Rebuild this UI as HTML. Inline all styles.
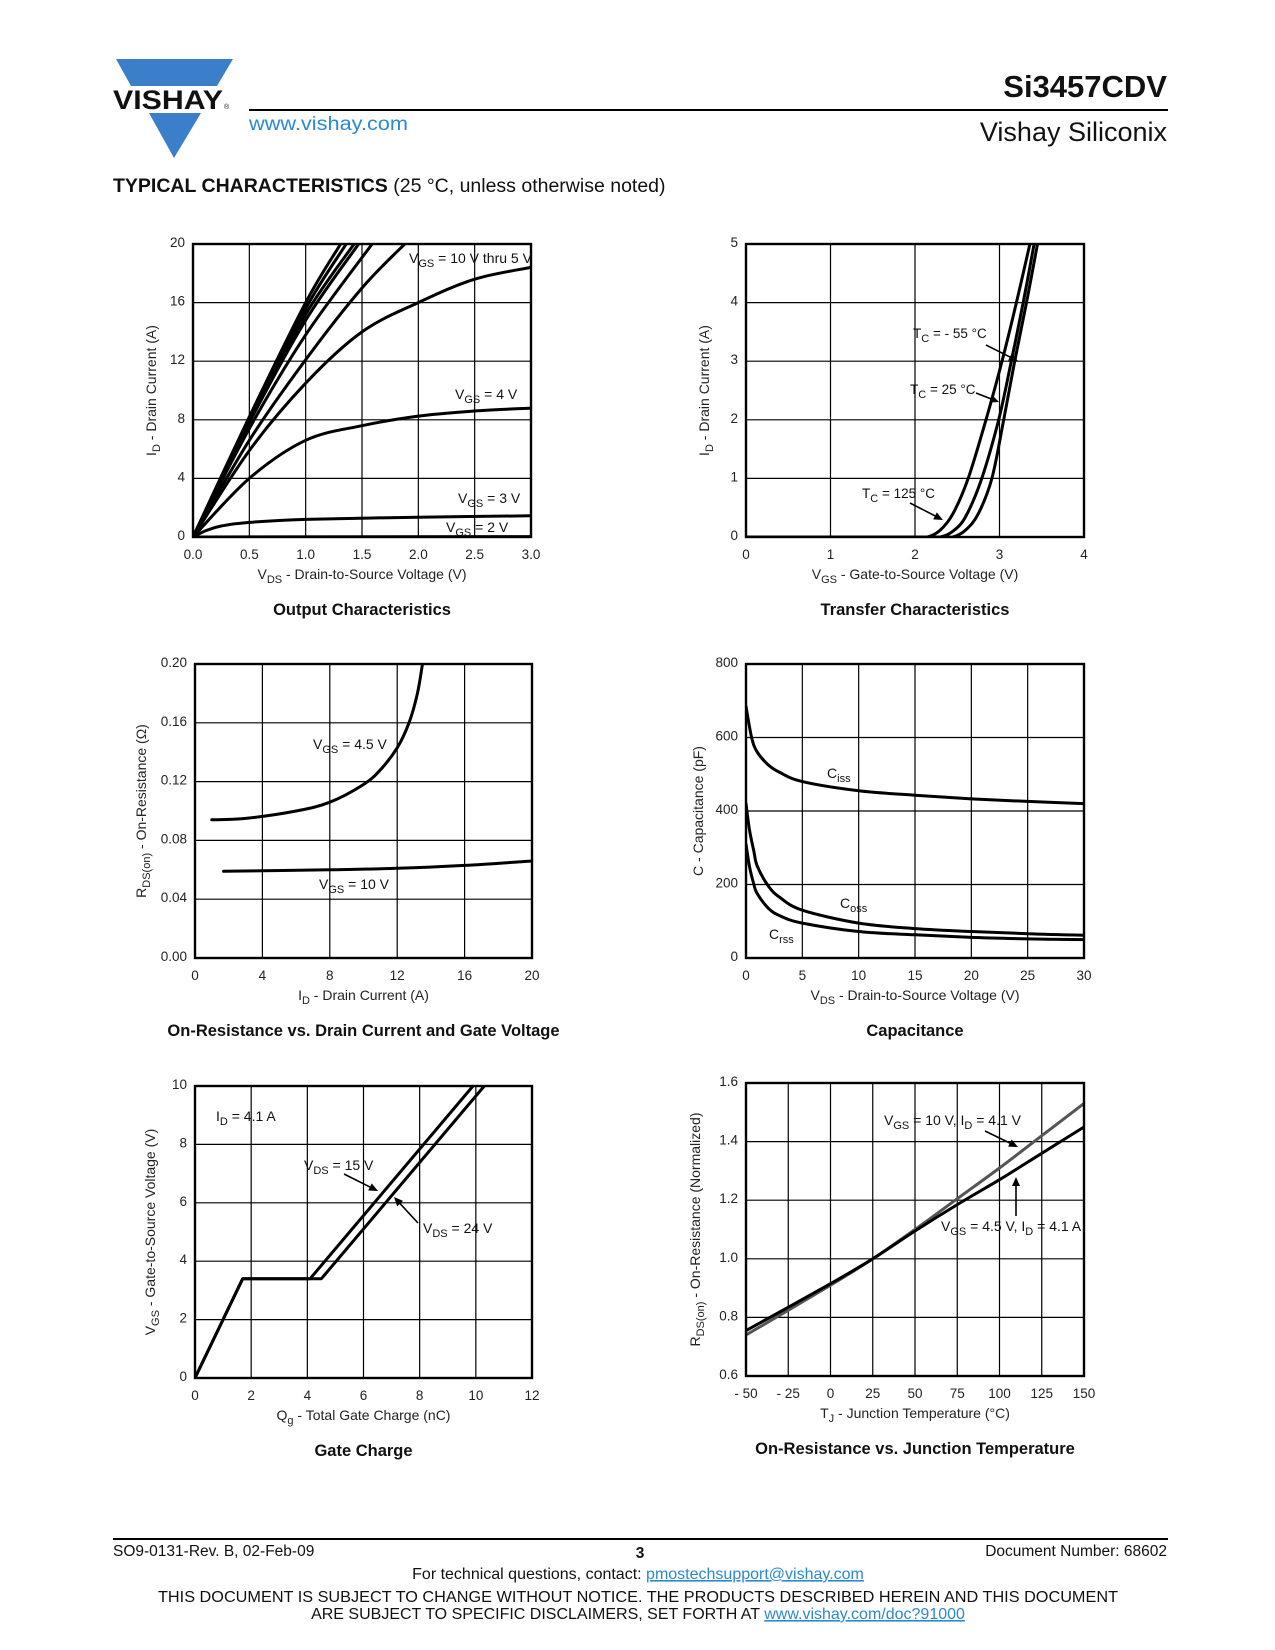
<!DOCTYPE html>
<html><head><meta charset="utf-8"><style>
body{margin:0;background:#fff;}
svg{display:block;font-family:"Liberation Sans",Arial,sans-serif;}
</style></head><body>
<svg id="page" width="1275" height="1650" viewBox="0 0 1275 1650" xmlns="http://www.w3.org/2000/svg">
<g>
<polygon points="116,59 233,59 217,86 131,86" fill="#3b7fcb"/>
<text x="113" y="109" font-size="27" font-weight="bold" textLength="110" lengthAdjust="spacingAndGlyphs" fill="#111">VISHAY</text>
<text x="224" y="109" font-size="7" fill="#111">®</text>
<polygon points="149,113 201,113 174,158" fill="#3b7fcb"/>
<line x1="249" y1="110" x2="1168" y2="110" stroke="#000" stroke-width="2"/>
<text x="249" y="130" font-size="19" fill="#2a8ad0" textLength="159" lengthAdjust="spacingAndGlyphs">www.vishay.com</text>
<text x="1167" y="97" font-size="31" font-weight="bold" text-anchor="end" fill="#111">Si3457CDV</text>
<text x="1167" y="141" font-size="27" text-anchor="end" fill="#111">Vishay Siliconix</text>
<text x="113" y="192" font-size="19.5" fill="#111"><tspan font-weight="bold">TYPICAL CHARACTERISTICS</tspan> (25 °C, unless otherwise noted)</text>
</g>
<g>
<line x1="113" y1="1539" x2="1168" y2="1539" stroke="#000" stroke-width="2"/>
<text x="113" y="1556" font-size="15.5" fill="#111">SO9-0131-Rev. B, 02-Feb-09</text>
<text x="640" y="1558" font-size="15.5" font-weight="bold" text-anchor="middle" fill="#111">3</text>
<text x="1167" y="1556" font-size="15.5" text-anchor="end" fill="#111">Document Number: 68602</text>
<text x="638" y="1579" font-size="16" text-anchor="middle" fill="#111">For technical questions, contact: <tspan fill="#2a8ad0" text-decoration="underline">pmostechsupport@vishay.com</tspan></text>
<text x="638" y="1602" font-size="16" text-anchor="middle" fill="#111" textLength="960" lengthAdjust="spacingAndGlyphs">THIS DOCUMENT IS SUBJECT TO CHANGE WITHOUT NOTICE. THE PRODUCTS DESCRIBED HEREIN AND THIS DOCUMENT</text>
<text x="638" y="1619" font-size="16" text-anchor="middle" fill="#111">ARE SUBJECT TO SPECIFIC DISCLAIMERS, SET FORTH AT <tspan fill="#2a8ad0" text-decoration="underline">www.vishay.com/doc?91000</tspan></text>
</g>
</svg>
<script>
// ---- Output characteristics data ----
const outX1=[0,0.5,1.0,1.31], outY1=[0,8.2,16,20];
const outX2=[0,0.5,1.0,1.36], outY2=[0,8.0,15.6,20];
const outX3=[0,0.5,1.0,1.43], outY3=[0,7.9,15.2,20];
const outX4=[0,0.5,1.0,1.47], outY4=[0,7.8,14.8,20];
const outX5=[0,0.5,1.0,1.59], outY5=[0,7.4,13.8,20];
const outX6=[0,0.5,1.0,1.5,1.88], outY6=[0,6.6,12.1,17.0,20];
const outX7=[0,0.5,1.0,1.5,2.0,2.5,3.0], outY7=[0,5.9,10.5,14.0,16.0,17.6,18.4];
const outX8=[0,0.5,1.0,1.5,2.0,2.5,3.0], outY8=[0,4.0,6.6,7.6,8.25,8.6,8.8];
const outX9=[0,0.12,0.25,0.5,1.0,2.0,3.0], outY9=[0,0.45,0.75,1.0,1.2,1.35,1.45];
const outX10=[0,3.0], outY10=[0,0.03];
const outXTicks=["0.0","0.5","1.0","1.5","2.0","2.5","3.0"], outYTicks=["0","4","8","12","16","20"];
// ---- Transfer data ----
const trX125=[0,1,2,2.15,2.3,2.45,2.63,2.84,3.03,3.2,3.36], trY125=[0,0,0,0,0.12,0.4,1,2,3,4,5];
const trX25=[0,1,2.15,2.3,2.45,2.6,2.79,2.99,3.14,3.28,3.41], trY25=[0,0,0,0,0.1,0.35,1,2,3,4,5];
const trXm55=[0,1,2.3,2.45,2.6,2.75,2.91,3.05,3.18,3.32,3.45], trYm55=[0,0,0,0,0.12,0.4,1,2,3,4,5];
const trXTicks=["0","1","2","3","4"], trYTicks=["0","1","2","3","4","5"];
// ---- On-resistance vs ID ----
const rdsX45=[1,3,6,8,10,11,12,12.7,13.2,13.5], rdsY45=[0.094,0.095,0.1,0.106,0.118,0.128,0.143,0.16,0.18,0.2];
const rdsX10=[1.7,8,12,16,20], rdsY10=[0.059,0.06,0.061,0.063,0.066];
const rdsXTicks=["0","4","8","12","16","20"], rdsYTicks=["0.00","0.04","0.08","0.12","0.16","0.20"];
// ---- Capacitance ----
const capCissX=[0,0.5,1,2,3,5,10,15,20,25,30], capCissY=[685,600,560,525,505,480,455,443,433,426,420];
const capCossX=[0,0.3,0.7,1,2,3,5,10,15,20,25,30], capCossY=[420,350,290,250,195,165,130,95,80,72,66,62];
const capCrssX=[0,0.3,0.7,1,2,3,5,10,15,20,25,30], capCrssY=[310,250,200,175,135,115,95,72,63,56,52,50];
const capXTicks=["0","5","10","15","20","25","30"], capYTicks=["0","200","400","600","800"];
// ---- Gate charge ----
const gc15X=[0,1.7,4.1,9.9], gc15Y=[0,3.4,3.4,10];
const gc24X=[0,1.7,4.5,10.3], gc24Y=[0,3.4,3.4,10];
const gcXTicks=["0","2","4","6","8","10","12"], gcYTicks=["0","2","4","6","8","10"];
// ---- Rds vs Tj ----
const tjX=[-50,0,25,50,75,100,125,150];
const tj10Y=[0.74,0.91,1.0,1.1,1.205,1.31,1.42,1.53];
const tj45Y=[0.755,0.915,1.0,1.095,1.185,1.27,1.36,1.45];
const tjXTicks=["- 50","- 25","0","25","50","75","100","125","150"], tjYTicks=["0.6","0.8","1.0","1.2","1.4","1.6"];

const NS="http://www.w3.org/2000/svg";
const svg=document.getElementById('page');
function mk(tag,attrs,parent){const e=document.createElementNS(NS,tag);for(const k in attrs)e.setAttribute(k,attrs[k]);(parent||svg).appendChild(e);return e;}
function axes(L,R,T,B,x0,x1,y0,y1){return {sx:v=>L+(v-x0)/(x1-x0)*(R-L), sy:v=>B-(v-y0)/(y1-y0)*(B-T)};}
function smooth(pts,lin){
  if(lin){return 'M'+pts.map(p=>p[0].toFixed(1)+','+p[1].toFixed(1)).join(' L');}
  let d='M'+pts[0][0].toFixed(1)+','+pts[0][1].toFixed(1);
  for(let i=0;i<pts.length-1;i++){
    const p0=pts[i-1]||pts[i],p1=pts[i],p2=pts[i+1],p3=pts[i+2]||p2;
    const c1=[p1[0]+(p2[0]-p0[0])/6,p1[1]+(p2[1]-p0[1])/6];
    const c2=[p2[0]-(p3[0]-p1[0])/6,p2[1]-(p3[1]-p1[1])/6];
    d+=` C${c1[0].toFixed(1)},${c1[1].toFixed(1)} ${c2[0].toFixed(1)},${c2[1].toFixed(1)} ${p2[0].toFixed(1)},${p2[1].toFixed(1)}`;
  }
  return d;
}
function chart(name,L,R,T,B,xt,yt,x0,x1,y0,y1,xTitle,yTitle,title,yTitleX){
  const g=mk('g',{});
  
  
  for(let i=1;i<xt.length-1;i++){const x=L+i*(R-L)/(xt.length-1);const l=mk('line',{x1:x,y1:T,x2:x,y2:B,stroke:'#000','stroke-width':1.2},g);
    
    }
  for(let i=1;i<yt.length-1;i++){const y=B-i*(B-T)/(yt.length-1);const l=mk('line',{x1:L,y1:y,x2:R,y2:y,stroke:'#000','stroke-width':1.2},g);
    
    }
  xt.forEach((t,i)=>{const x=L+i*(R-L)/(xt.length-1);const e=mk('text',{x:x,y:B+22,'font-size':13.5,'text-anchor':'middle',fill:'#222'},g);e.textContent=t;
    
    });
  yt.forEach((t,i)=>{const y=B-i*(B-T)/(yt.length-1);const e=mk('text',{x:L-8,y:y+3,'font-size':13.5,'text-anchor':'end',fill:'#222'},g);e.textContent=t;
    
    });
  const xa=mk('text',{x:(L+R)/2,y:B+42,'font-size':14,'text-anchor':'middle',fill:'#222'},g);xa.innerHTML=xTitle;
  
  
  const ya=mk('text',{x:0,y:0,'font-size':14,'text-anchor':'middle',fill:'#222',transform:`translate(${yTitleX},${(T+B)/2}) rotate(-90)`},g);ya.innerHTML=yTitle;
  
  
  const ct=mk('text',{x:(L+R)/2,y:B+78,'font-size':16.5,'font-weight':'bold','text-anchor':'middle',fill:'#111'},g);ct.textContent=title;
  
  
  const ax=axes(L,R,T,B,x0,x1,y0,y1);
  ax.g=g;ax.L=L;ax.R=R;ax.T=T;ax.B=B;
  const cid='clip'+name;
  const cp=mk('clipPath',{id:cid},g);mk('rect',{x:L,y:T-1,width:R-L,height:B-T+2},cp);
  ax.cg=mk('g',{'clip-path':`url(#${cid})`},g);
  return ax;
}
function frame(ax){const r=mk('rect',{x:ax.L,y:ax.T,width:ax.R-ax.L,height:ax.B-ax.T,fill:'none',stroke:'#000','stroke-width':2.4},ax.g);
  
  }
function series(ax,xs,ys,name,color,lin){
  const pts=xs.map((x,i)=>[ax.sx(x),ax.sy(ys[i])]);
  const p=mk('path',{d:smooth(pts,lin),fill:'none',stroke:color||'#000','stroke-width':3,'stroke-linejoin':'round','stroke-linecap':'round'},ax.cg);
  
  
}
function label(g,x,y,html,name,size){const e=mk('text',{x:x,y:y,'font-size':size||14,fill:'#111'},g);e.innerHTML=html;
  
  }
function arrow(g,x1,y1,x2,y2,name){
  const a=Math.atan2(y2-y1,x2-x1),s=9;
  const l=mk('line',{x1:x1,y1:y1,x2:x2-Math.cos(a)*s*0.8,y2:y2-Math.sin(a)*s*0.8,stroke:'#000','stroke-width':1.6},g);
  
  
  const h=mk('polygon',{points:`${x2},${y2} ${x2-s*Math.cos(a)+4*Math.sin(a)},${y2-s*Math.sin(a)-4*Math.cos(a)} ${x2-s*Math.cos(a)-4*Math.sin(a)},${y2-s*Math.sin(a)+4*Math.cos(a)}`,fill:'#000'},g);
  
  
}
const sub=(t)=>`<tspan baseline-shift="-4" font-size="11">${t}</tspan>`;

// Chart 1
let a=chart('output-characteristics-chart',193,531,244,537,outXTicks,outYTicks,0,3,0,20,`V${sub('DS')} - Drain-to-Source Voltage (V)`,`I${sub('D')} - Drain Current (A)`,'Output Characteristics',156);
[[outX1,outY1],[outX2,outY2],[outX3,outY3],[outX4,outY4],[outX5,outY5],[outX6,outY6],[outX7,outY7]].forEach((s,i)=>series(a,s[0],s[1],'curve-vgs-high-'+(i+1)));
series(a,outX8,outY8,'curve-vgs-4v');series(a,outX9,outY9,'curve-vgs-3v');series(a,outX10,outY10,'curve-vgs-2v',null,true);
frame(a);
label(a.g,409,263,`V${sub('GS')} = 10 V thru 5 V`,'label-vgs-10-5');
label(a.g,455,399,`V${sub('GS')} = 4 V`,'label-vgs-4');
label(a.g,458,503,`V${sub('GS')} = 3 V`,'label-vgs-3');
label(a.g,446,532,`V${sub('GS')} = 2 V`,'label-vgs-2');

// Chart 2
a=chart('transfer-characteristics-chart',746,1084,244,537,trXTicks,trYTicks,0,4,0,5,`V${sub('GS')} - Gate-to-Source Voltage (V)`,`I${sub('D')} - Drain Current (A)`,'Transfer Characteristics',709);
series(a,trX125,trY125,'curve-tc-125');series(a,trX25,trY25,'curve-tc-25');series(a,trXm55,trYm55,'curve-tc-minus55');
frame(a);
label(a.g,913,338,`T${sub('C')} = - 55 °C`,'label-tc-minus55',13.5);arrow(a.g,986,345,1018,361,'arrow-tc-minus55');
label(a.g,910,394,`T${sub('C')} = 25 °C`,'label-tc-25',13.5);arrow(a.g,976,393,999,402,'arrow-tc-25');
label(a.g,862,498,`T${sub('C')} = 125 °C`,'label-tc-125',13.5);arrow(a.g,910,503,943,520,'arrow-tc-125');

// Chart 3
a=chart('on-resistance-vs-current-chart',195,532,664,958,rdsXTicks,rdsYTicks,0,20,0,0.2,`I${sub('D')} - Drain Current (A)`,`R${sub('DS(on)')} - On-Resistance (Ω)`,'On-Resistance vs. Drain Current and Gate Voltage',146);
series(a,rdsX45,rdsY45,'curve-vgs-4-5v');series(a,rdsX10,rdsY10,'curve-vgs-10v');
frame(a);
label(a.g,313,749,`V${sub('GS')} = 4.5 V`,'label-vgs-4-5');
label(a.g,319,889,`V${sub('GS')} = 10 V`,'label-vgs-10');

// Chart 4
a=chart('capacitance-chart',746,1084,664,958,capXTicks,capYTicks,0,30,0,800,`V${sub('DS')} - Drain-to-Source Voltage (V)`,'C - Capacitance (pF)','Capacitance',703);
series(a,capCissX,capCissY,'curve-ciss');series(a,capCossX,capCossY,'curve-coss');series(a,capCrssX,capCrssY,'curve-crss');
frame(a);
label(a.g,827,778,`C${sub('iss')}`,'label-ciss');
label(a.g,840,908,`C${sub('oss')}`,'label-coss');
label(a.g,769,939,`C${sub('rss')}`,'label-crss');

// Chart 5
a=chart('gate-charge-chart',195,532,1086,1378,gcXTicks,gcYTicks,0,12,0,10,`Q${sub('g')} - Total Gate Charge (nC)`,`V${sub('GS')} - Gate-to-Source Voltage (V)`,'Gate Charge',155);
series(a,gc15X,gc15Y,'curve-vds-15v',null,true);series(a,gc24X,gc24Y,'curve-vds-24v',null,true);
frame(a);
label(a.g,216,1121,`I${sub('D')} = 4.1 A`,'label-id');
label(a.g,304,1170,`V${sub('DS')} = 15 V`,'label-vds-15');arrow(a.g,344,1174,378,1191,'arrow-vds-15');
label(a.g,423,1233,`V${sub('DS')} = 24 V`,'label-vds-24');arrow(a.g,418,1223,394,1197,'arrow-vds-24');

// Chart 6
a=chart('on-resistance-vs-temperature-chart',746,1084,1083,1376,tjXTicks,tjYTicks,-50,150,0.6,1.6,`T${sub('J')} - Junction Temperature (°C)`,`R${sub('DS(on)')} - On-Resistance (Normalized)`,'On-Resistance vs. Junction Temperature',700);
series(a,tjX,tj10Y,'curve-vgs-10v','#555');series(a,tjX,tj45Y,'curve-vgs-4-5v');
frame(a);
label(a.g,884,1125,`V${sub('GS')} = 10 V, I${sub('D')} = 4.1 V`,'label-vgs-10-line');arrow(a.g,985,1131,1018,1147,'arrow-vgs-10');
label(a.g,941,1231,`V${sub('GS')} = 4.5 V, I${sub('D')} = 4.1 A`,'label-vgs-4-5-line');arrow(a.g,1016,1216,1016,1177,'arrow-vgs-4-5');
</script>
</body></html>
